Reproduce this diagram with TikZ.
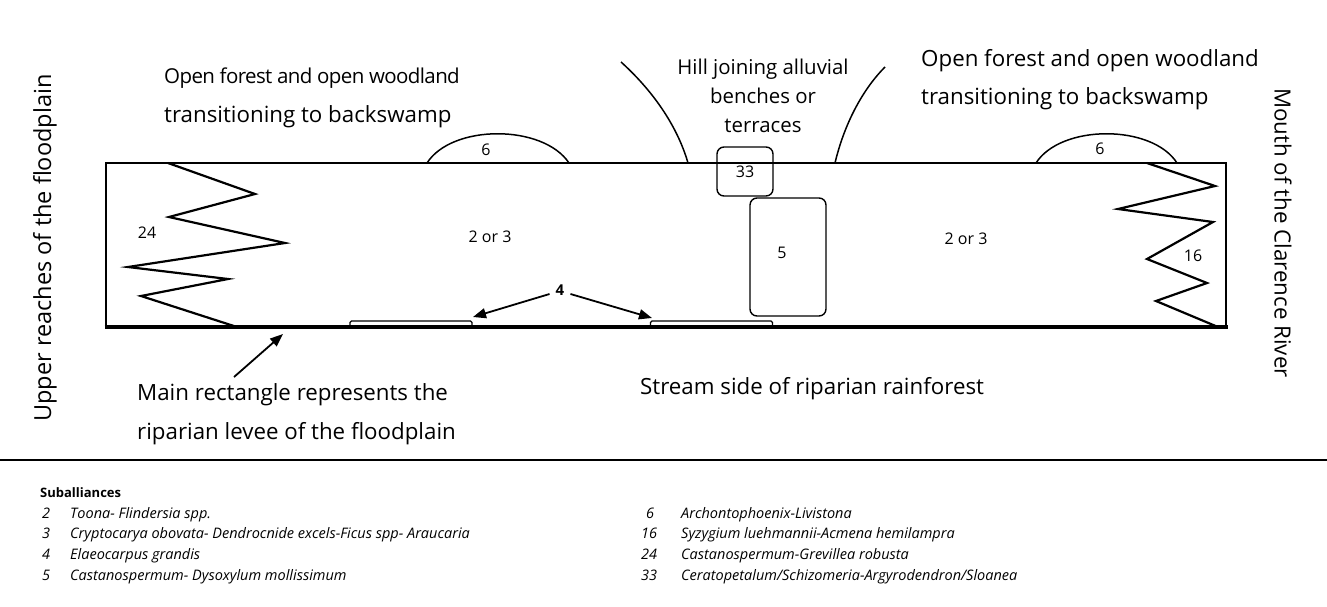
\documentclass[tikz,border=0pt]{standalone}
\usepackage{fontspec}
\setmainfont{Open Sans}
\usetikzlibrary{arrows.meta}
\begin{document}
\begin{tikzpicture}[x=1pt,y=-1pt,
  lbl/.style={font=\fontsize{22.3}{24}\selectfont, inner sep=0pt},
  num/.style={font=\fontsize{16}{18}\selectfont, inner sep=0pt},
  leg/.style={font=\fontsize{14.5}{16}\selectfont\itshape, inner sep=0pt, anchor=base west},
  zone/.style={draw, line width=1.4pt, rounded corners=7pt},
  bar/.style={draw, line width=1.3pt, rounded corners=1.5pt, minimum width=122pt, minimum height=6pt, inner sep=0pt},
  edge/.style={line width=1.5pt},
  zig/.style={line width=2.2pt, line join=miter},
  pointer/.style={line width=1.8pt, -{Triangle[length=13pt,width=10pt]}}]
\useasboundingbox (0,0) rectangle (1327,606);

% levee rectangle
\draw[edge] (106,327) -- (106,163) -- (1226,163) -- (1226,327);
\draw[line width=3.2pt] (104.5,327) -- (1227.5,327);

% wedge boundaries at both ends
\draw[zig] (168,163) -- (255,194) -- (169,217) -- (285,243) -- (128,267) -- (228,279) -- (141,296) -- (237,327);
\draw[zig] (1147,163) -- (1215,186) -- (1118,209) -- (1213,222) -- (1147,259) -- (1207,283) -- (1156,301) -- (1218,327);

% palm domes on the top edge
\draw[edge] (427,163) .. controls (452,124) and (543,124) .. (569,163);
\draw[edge] (1036,163) .. controls (1061,124) and (1152,124) .. (1177,163);
\node[num] (d1) at (486,150) {6};
\node[num] (d2) at (1100,149) {6};

% hill flanks
\draw[edge] (621,62) .. controls (652,90) and (677,125) .. (688,163);
\draw[edge] (885,67) .. controls (862,90) and (844,125) .. (835,163);
\node[inner sep=0pt, font=\fontsize{20.4}{29}\selectfont, align=center] (hill) at (763,96) {Hill joining alluvial\\benches or\\terraces};

% inner zones
\node[zone, minimum width=56pt, minimum height=49pt, inner sep=0pt] (z33) at (745,171.5) {};
\node[num] at (745,172) {33};
\node[zone, minimum width=76pt, minimum height=118pt, inner sep=0pt] (z5) at (788,257) {};
\node[num] at (782,253) {5};

\node[num] (n24) at (147,233) {24};
\node[num] (n16) at (1193,256) {16};
\node[num] (a23) at (490,237) {2 or 3};
\node[num] (b23) at (966,239) {2 or 3};

% stream-side patches
\node[bar] (bar1) at (411,324) {};
\node[bar] (bar2) at (711.5,324) {};
\node[num, font=\bfseries\fontsize{15}{17}\selectfont] (four) at (560,290) {4};
\coordinate (t1) at (473,317);
\coordinate (t2) at (652,318);
\draw[pointer] (four.west) ++(-6,4) -- (t1);
\draw[pointer] (four.east) ++(6,4) -- (t2);

% captions
\node[lbl, font=\fontsize{20.5}{24}\selectfont\addfontfeature{LetterSpace=-3}, anchor=base west] (of1) at (164,83) {Open forest and open woodland};
\node[lbl, anchor=base west] (of2) at (164,122) {transitioning to backswamp};
\node[lbl, anchor=base west] (of3) at (921,66) {Open forest and open woodland};
\node[lbl, anchor=base west] (of4) at (921,104) {transitioning to backswamp};

\node[lbl, anchor=base west] (mr1) at (137,400) {Main rectangle represents the};
\node[lbl, anchor=base west] (mr2) at (137,439) {riparian levee of the floodplain};
\coordinate (lev) at (283,334);
\draw[pointer] (234,377) -- (lev);

\node[lbl, anchor=base west] (ss) at (640,394) {Stream side of riparian rainforest};

\node[lbl, font=\fontsize{23.5}{26}\selectfont, rotate=90] (up) at (45,248) {Upper reaches of the floodplain};
\node[lbl, rotate=-90] (mouth) at (1283,233) {Mouth of the Clarence River};

% rule and key
\draw[line width=2.6pt] (0,460) -- (1327,460);
\node[inner sep=0pt, anchor=base west, font=\bfseries\fontsize{13}{15}\selectfont] (key) at (40,497) {Suballiances};

\node[leg] at (42,518) {2};
\node[leg] at (70,518) {Toona- Flindersia spp.};
\node[leg] at (42,538) {3};
\node[leg] at (70,538) {Cryptocarya obovata- Dendrocnide excels-Ficus spp- Araucaria};
\node[leg] at (42,559) {4};
\node[leg] at (70,559) {Elaeocarpus grandis};
\node[leg] at (42,580) {5};
\node[leg] at (70,580) {Castanospermum- Dysoxylum mollissimum};

\node[leg] at (646,518) {6};
\node[leg] at (681,518) {Archontophoenix-Livistona};
\node[leg] at (641,538) {16};
\node[leg] at (681,538) {Syzygium luehmannii-Acmena hemilampra};
\node[leg] at (641,559) {24};
\node[leg] at (681,559) {Castanospermum-Grevillea robusta};
\node[leg] at (641,580) {33};
\node[leg] at (681,580) {Ceratopetalum/Schizomeria-Argyrodendron/Sloanea};
\end{tikzpicture}
\end{document}
